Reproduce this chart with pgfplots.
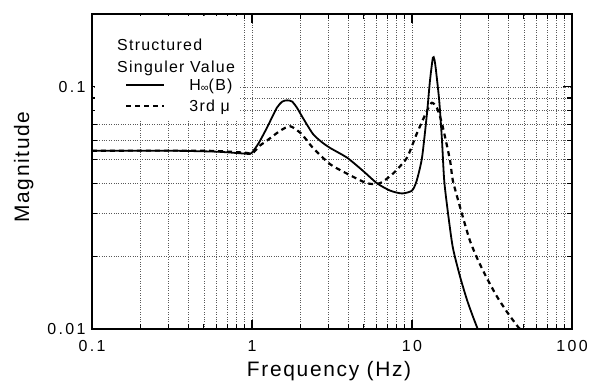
\documentclass[border=0pt]{standalone}
\usepackage{fontspec}
\setmainfont{Liberation Sans}
\newfontfamily\tickfont{Liberation Sans}[LetterSpace=15]
\newfontfamily\labfont{Liberation Sans}[LetterSpace=8]
\usepackage{pgfplots}
\pgfplotsset{compat=1.18}
\begin{document}
\begin{tikzpicture}
\begin{axis}[
  scale only axis, width=480bp, height=315bp,
  xmode=log, ymode=log,
  xmin=0.1, xmax=100, ymin=0.01, ymax=0.2,
  xtick={0.1,1,10,100}, xticklabels={0.1,1,10,100},
  ytick={0.01,0.1}, yticklabels={0.01,0.1},
  minor xtick={0.2,0.3,0.4,0.5,0.6,0.7,0.8,0.9,2,3,4,5,6,7,8,9,20,30,40,50,60,70,80,90},
  minor ytick={0.02,0.03,0.04,0.05,0.06,0.07,0.08,0.09,0.2},
  /pgf/number format/assume math mode=true,
  grid=both,
  major grid style={dotted, black!65, line width=0.6bp},
  minor grid style={dotted, black!65, line width=0.6bp},
  tick align=inside,
  major tick length=9bp, minor tick length=5bp,
  every tick/.style={black, line width=1.2bp},
  axis line style={line width=1.6bp},
  tick label style={font=\tickfont\fontsize{16}{18}\selectfont},
  xticklabel style={yshift=-8bp},
  yticklabel style={xshift=-3bp},
  xlabel={Frequency (Hz)}, ylabel={Magnitude},
  label style={font=\labfont\fontsize{21}{24}\selectfont},
  xlabel style={at={(axis description cs:0.494,-0.133)}, anchor=center},
  ylabel style={at={(axis description cs:-0.142,0.514)}, anchor=center},
  legend cell align=left,
  legend image code/.code={\draw[#1] (0bp,0bp) -- (38bp,0bp); \path (62bp,0bp);},
  legend style={at={(axis description cs:0.06875,0.795)}, anchor=north west,
    draw=none, fill=white, font=\labfont\fontsize{16}{19}\selectfont,
    inner sep=0pt, row sep=8bp, nodes={inner sep=0pt}},
]
\addplot[black, line width=1.8bp, smooth, tension=0.4] coordinates {
(0.1,0.0545) (0.3,0.0545) (0.6,0.054) (0.9,0.053) (0.97,0.0528) (1.0,0.0535)
(1.1,0.0585) (1.24,0.0678) (1.43,0.082) (1.55,0.087) (1.66,0.0880) (1.78,0.087)
(1.91,0.082) (2.08,0.0745) (2.4,0.064) (2.7,0.0595) (3.07,0.056) (3.93,0.051)
(4.94,0.045) (6.04,0.040) (7.29,0.0373) (8.66,0.0363) (10.0,0.0373) (10.7,0.041)
(11.55,0.051) (12.4,0.0774) (12.95,0.106) (13.5,0.132) (13.8,0.130) (14.1,0.118)
(14.8,0.0876) (15.4,0.060) (15.9,0.041) (16.8,0.030) (18.0,0.0217) (20.0,0.0164)
(22.1,0.01315) (24.1,0.0112) (25.9,0.0099)
};
\addlegendentry{H\raisebox{-1bp}{\fontsize{11}{11}\selectfont ∞}(B)}
\addplot[black, line width=2.2bp, dash pattern=on 5bp off 4bp, smooth, tension=0.4] coordinates {
(0.1,0.0545) (0.5,0.0545) (0.9,0.0535) (1.0,0.053) (1.12,0.0572) (1.24,0.060)
(1.5,0.0659) (1.73,0.0688) (2.0,0.0647) (2.21,0.060) (2.4,0.056) (3.07,0.048)
(3.93,0.0438) (5.23,0.040) (6.3,0.040) (7.6,0.0438) (9.3,0.051) (10.7,0.064)
(12.4,0.0796) (13.3,0.086) (14.3,0.082) (15.4,0.0705) (17.3,0.0496) (18.0,0.041)
(20.5,0.030) (23.0,0.0232) (25.9,0.0192) (29.4,0.0162) (34.0,0.0136)
(39.3,0.01175) (46.0,0.0102) (48.5,0.0099)
};
\addlegendentry{3rd μ}
\fill[white] (axis description cs:0.00625,0.9937) rectangle (axis description cs:0.308,0.663);
\node[anchor=north west, inner sep=0pt, align=left,
  font=\labfont\fontsize{16}{22}\selectfont]
  at (axis description cs:0.052,0.921) {Structured\\Singuler Value};
\end{axis}
\pgfresetboundingbox
\path ([xshift=-92bp,yshift=-58bp]current axis.south west) rectangle ([xshift=19bp,yshift=14bp]current axis.north east);
\end{tikzpicture}
\end{document}
